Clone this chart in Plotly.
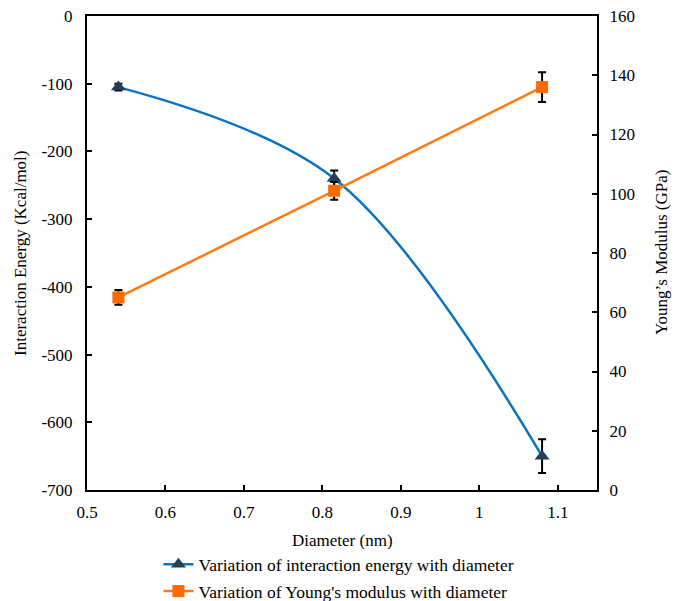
import plotly.graph_objects as go

diameter = [0.54, 0.815, 1.08]
energy = [-105, -240, -650]
energy_err = [5, 12, 25]
modulus = [65, 101, 136]
modulus_err = [2.5, 3, 5]

left_ticks = [0, -100, -200, -300, -400, -500, -600, -700]
right_ticks = [0, 20, 40, 60, 80, 100, 120, 140, 160]
x_ticks = [0.5, 0.6, 0.7, 0.8, 0.9, 1.0, 1.1]
x_labels = ["0.5", "0.6", "0.7", "0.8", "0.9", "1", "1.1"]

FONT = "Liberation Serif"
W, H = 683, 601
PL, PR, PT, PB = 87, 86, 16, 111
PW, PH = W - PL - PR, H - PT - PB

fig = go.Figure()
fig.add_trace(go.Scatter(
    x=diameter, y=energy, mode="lines+markers",
    name="Variation of interaction energy with diameter", legendgroup="a",
    line=dict(color="#0A74C0", width=2.5, shape="spline", smoothing=1.0),
    marker=dict(symbol="triangle-up", size=13, color="#263D57"),
    error_y=dict(type="data", array=energy_err, color="black", thickness=2, width=4),
    yaxis="y"))
fig.add_trace(go.Scatter(
    x=diameter, y=modulus, mode="lines+markers",
    name="Variation of Young's modulus with diameter", legendgroup="b",
    line=dict(color="#FF7A10", width=2.5),
    marker=dict(symbol="square", size=12, color="#FF6A00"),
    error_y=dict(type="data", array=modulus_err, color="black", thickness=2, width=4),
    yaxis="y2"))

axis_common = dict(showline=True, linecolor="black", linewidth=2, ticks="inside",
                   ticklen=5, tickcolor="black", tickwidth=1.5, showgrid=False,
                   zeroline=False, tickfont=dict(family=FONT, size=17, color="black"))


def px(cx, cy):
    return (cx - PL) / PW, 1 - (cy - PT) / PH


tx, ty = px(342, 540)
lx, ly = px(20, 253)
rx, ry = px(661, 253)

fig.update_layout(
    width=W, height=H,
    margin=dict(l=PL, r=PR, t=PT, b=PB, autoexpand=False),
    plot_bgcolor="white", paper_bgcolor="white",
    font=dict(family=FONT, size=17, color="black"),
    xaxis=dict(range=[0.5, 1.15], tickvals=x_ticks, ticktext=x_labels,
               mirror=True, ticklabelstandoff=6, **axis_common),
    yaxis=dict(range=[-700, 0], tickvals=left_ticks, ticktext=[str(v) for v in left_ticks],
               ticklabelstandoff=9, **axis_common),
    yaxis2=dict(range=[0, 160], tickvals=right_ticks, ticktext=[str(v) for v in right_ticks],
                overlaying="y", side="right", ticklabelstandoff=7, **axis_common),
    legend=dict(x=0.232, y=0.091, xref="container", yref="container",
                xanchor="left", yanchor="top", orientation="v",
                font=dict(family=FONT, size=17.5), tracegroupgap=1,
                bgcolor="rgba(0,0,0,0)"),
    showlegend=True,
    annotations=[
        dict(text="Diameter (nm)", xref="paper", yref="paper", x=tx, y=ty,
             showarrow=False, font=dict(family=FONT, size=17), xanchor="center", yanchor="middle"),
        dict(text="Interaction Energy (Kcal/mol)", xref="paper", yref="paper",
             x=lx, y=ly, textangle=-90, showarrow=False,
             font=dict(family=FONT, size=17), xanchor="center", yanchor="middle"),
        dict(text="Young\u2019s Modulus (GPa)", xref="paper", yref="paper",
             x=rx, y=ry, textangle=-90, showarrow=False,
             font=dict(family=FONT, size=17), xanchor="center", yanchor="middle"),
    ],
)

fig.write_html("out.html")
